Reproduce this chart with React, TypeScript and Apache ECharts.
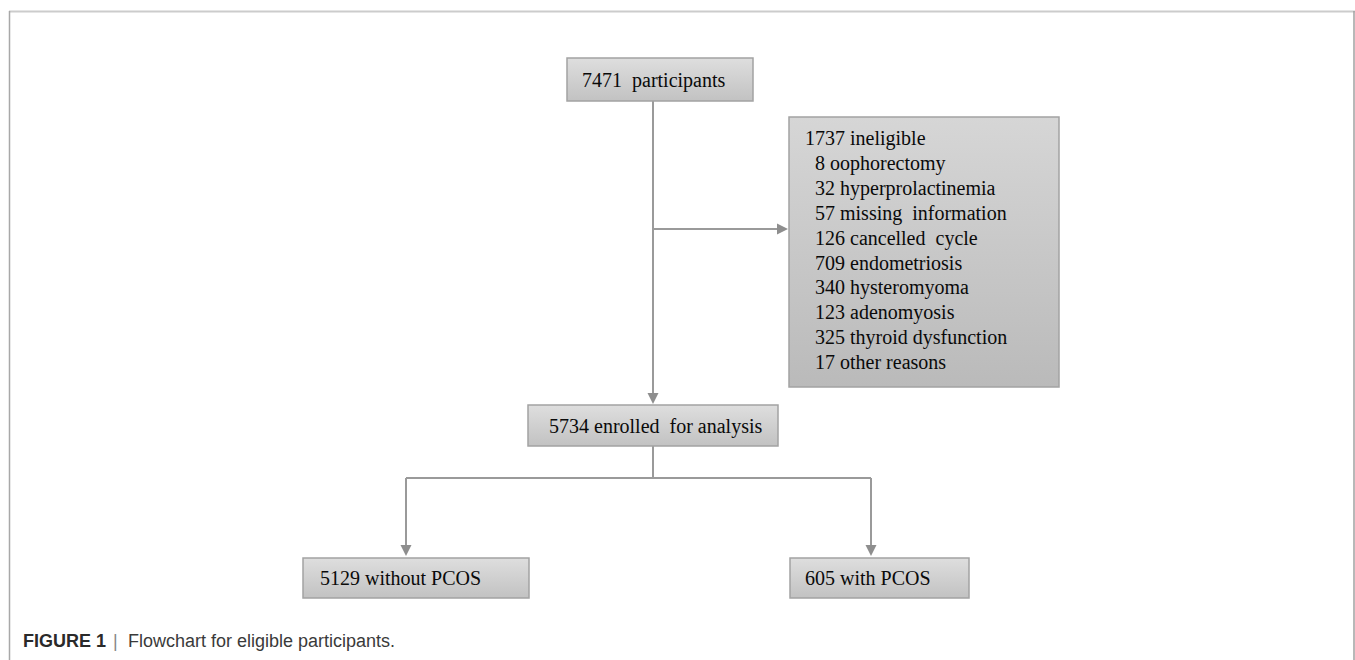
import React, { useEffect, useRef } from "react";
import * as echarts from "echarts";

// ---- data ----
const totalParticipants = 7471;
const ineligibleTotal = 1737;
const exclusionCounts = [8, 32, 57, 126, 709, 340, 123, 325, 17];
const exclusionReasons = [
  "oophorectomy",
  "hyperprolactinemia",
  "missing\u00a0 information",
  "cancelled\u00a0 cycle",
  "endometriosis",
  "hysteromyoma",
  "adenomyosis",
  "thyroid dysfunction",
  "other reasons",
];
const enrolledCount = 5734;
const groupCounts = [5129, 605];
const groupLabels = ["without PCOS", "with PCOS"];
const captionLabel = "FIGURE 1";
const captionText = "Flowchart for eligible participants.";

const FONT = '20px "Liberation Serif", "Times New Roman", serif';
const LINE = "#9a9a9a";
const TXT = "#0a0a0a";

function boxFill(top: string, bottom: string) {
  return new echarts.graphic.LinearGradient(0, 0, 0, 1, [
    { offset: 0, color: top },
    { offset: 1, color: bottom },
  ]);
}

function rect(x: number, y: number, w: number, h: number, top = "#dedede", bottom = "#c2c2c2") {
  return {
    type: "rect",
    shape: { x, y, width: w, height: h },
    style: { fill: boxFill(top, bottom), stroke: "#a3a3a3", lineWidth: 1.5 },
  };
}

function text(t: string, x: number, y: number) {
  return {
    type: "text",
    style: { text: t, x, y, font: FONT, fill: TXT, verticalAlign: "middle", align: "left" },
  };
}

function line(x1: number, y1: number, x2: number, y2: number, stroke = LINE, lw = 2) {
  return { type: "line", shape: { x1, y1, x2, y2 }, style: { stroke, lineWidth: lw } };
}

function arrowDown(x: number, tip: number) {
  return {
    type: "polygon",
    shape: { points: [[x - 5.5, tip - 11], [x + 5.5, tip - 11], [x, tip]] },
    style: { fill: "#8e8e8e" },
  };
}

function arrowRight(tip: number, y: number) {
  return {
    type: "polygon",
    shape: { points: [[tip - 11, y - 5.5], [tip - 11, y + 5.5], [tip, y]] },
    style: { fill: "#8e8e8e" },
  };
}

export default function App() {
  const ref = useRef<HTMLDivElement>(null);
  useEffect(() => {
    if (!ref.current) return;
    const chart = echarts.init(ref.current, null, { renderer: "svg" });
    const els: any[] = [];

    // frame
    els.push(line(9, 11.5, 1355, 11.5, "#cccccc", 2));
    els.push(line(9.5, 11, 9.5, 660, "#a8a8a8", 1.5));
    els.push(line(1354, 11, 1354, 660, "#a0a0a0", 1.5));

    // connectors
    const cx = 653;
    els.push(line(cx, 101, cx, 395));
    els.push(arrowDown(cx, 404));
    els.push(line(cx, 229, 778, 229));
    els.push(arrowRight(788, 229));

    els.push(line(cx, 446, cx, 478));
    const leftX = 406;
    const rightX = 871;
    els.push(line(leftX, 478, rightX, 478));
    els.push(line(leftX, 478, leftX, 546));
    els.push(line(rightX, 478, rightX, 546));
    els.push(arrowDown(leftX, 556));
    els.push(arrowDown(rightX, 556));

    // top box
    els.push(rect(567, 58, 186, 43));
    els.push(text(`${totalParticipants}\u00a0 participants`, 582, 80));

    // exclusion box
    els.push(rect(789, 117, 270, 270, "#d6d6d6", "#bababa"));
    const lineStep = 24.9;
    els.push(text(`${ineligibleTotal} ineligible`, 805, 138));
    exclusionCounts.forEach((c, i) => {
      els.push(text(`${c} ${exclusionReasons[i]}`, 815, 138 + lineStep * (i + 1)));
    });

    // enrolled box
    els.push(rect(528, 405, 250, 41));
    els.push(text(`${enrolledCount} enrolled\u00a0 for analysis`, 549, 426));

    // group boxes
    els.push(rect(303, 558, 226, 40));
    els.push(text(`${groupCounts[0]} ${groupLabels[0]}`, 320, 578));
    els.push(rect(790, 558, 179, 40));
    els.push(text(`${groupCounts[1]} ${groupLabels[1]}`, 805, 578));

    // caption
    els.push({
      type: "text",
      style: {
        text: captionLabel, x: 23, y: 641, fill: "#2a2a2a",
        font: 'bold 18px "Liberation Sans", Arial, sans-serif', verticalAlign: "middle",
      },
    });
    els.push({
      type: "text",
      style: {
        text: "|", x: 113, y: 641, fill: "#888888",
        font: '18px "Liberation Sans", Arial, sans-serif', verticalAlign: "middle",
      },
    });
    els.push({
      type: "text",
      style: {
        text: captionText, x: 128, y: 641, fill: "#3a3a3a",
        font: '18px "Liberation Sans", Arial, sans-serif', verticalAlign: "middle",
      },
    });

    chart.setOption({
      animation: false,
      backgroundColor: "#ffffff",
      graphic: { elements: els },
    });
    return () => chart.dispose();
  }, []);

  return (
    <div
      ref={ref}
      style={{ position: "absolute", left: 0, top: 0, width: 1355, height: 660, background: "#fff" }}
    />
  );
}
